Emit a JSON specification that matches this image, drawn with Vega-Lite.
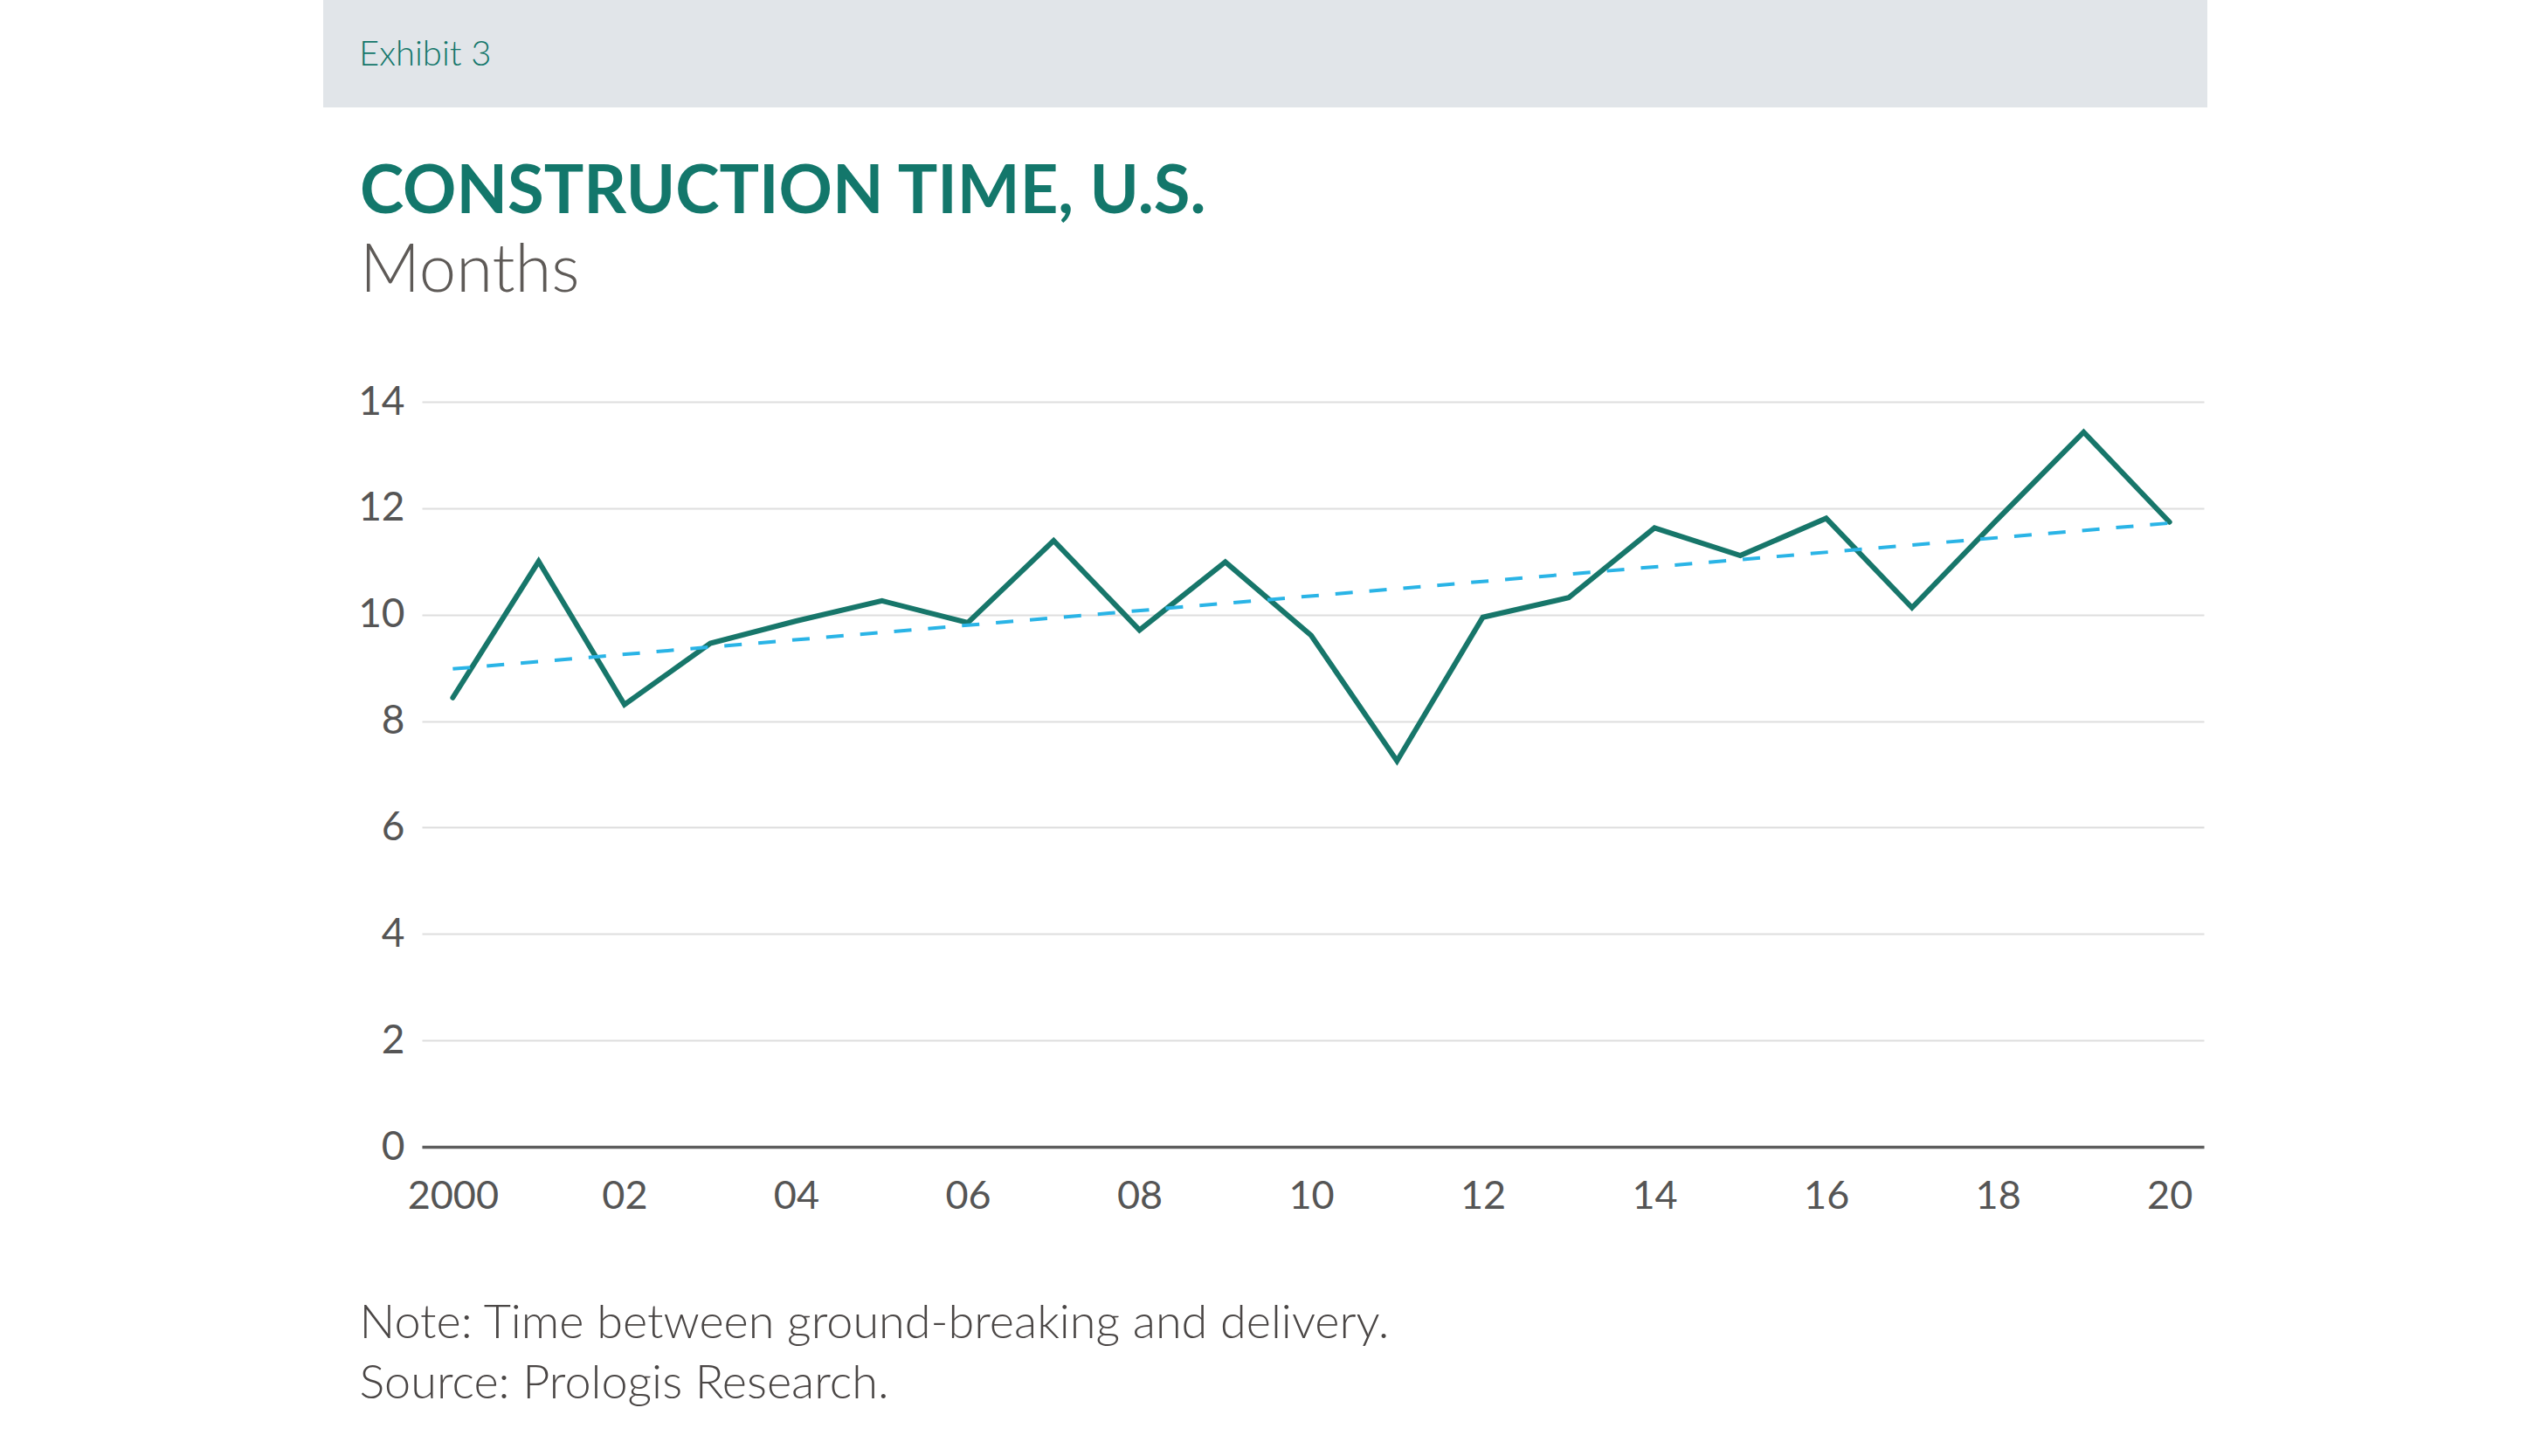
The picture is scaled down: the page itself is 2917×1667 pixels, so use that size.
{
  "$schema": "https://vega.github.io/schema/vega-lite/v6.json",
  "background": "#ffffff",
  "padding": {"left": 370, "top": 0, "right": 0, "bottom": 0},
  "config": {"view": {"stroke": null}, "font": "Lato"},
  "spacing": 60,
  "center": true,
  "vconcat": [
    {
      "width": 2157,
      "height": 123,
      "view": {"fill": "#e1e5e9", "stroke": null},
      "title": {"text": "Exhibit 3", "anchor": "start", "frame": "group", "orient": "top", "offset": -115, "dx": 41, "baseline": "alphabetic", "fontSize": 40, "fontWeight": 300, "color": "#13776b", "font": "Lato"},
      "data": {"values": []},
      "mark": {"type": "text"},
      "encoding": {
        "y": {
          "datum": 0, "type": "quantitative",
          "axis": {"orient": "right", "labels": false, "domain": false, "ticks": false, "grid": false, "title": null, "minExtent": 109, "maxExtent": 109}
        }
      }
    },
    {
      "width": 2040,
      "height": 853,
      "title": {
        "text": "CONSTRUCTION TIME, U.S.",
        "subtitle": "Months",
        "anchor": "start",
        "frame": "bounds",
        "dx": 41,
        "offset": 87,
        "font": "Lato",
        "fontSize": 76,
        "fontWeight": "bold",
        "color": "#13776b",
        "subtitleFont": "Lato",
        "subtitleFontSize": 76,
        "subtitleFontWeight": 300,
        "subtitleColor": "#5e5a57",
        "subtitlePadding": 14
      },
      "layer": [
        {
          "data": {"values": [
            {"year": 2000, "months": 8.44},
            {"year": 2001, "months": 11.0},
            {"year": 2002, "months": 8.31},
            {"year": 2003, "months": 9.46},
            {"year": 2004, "months": 9.88},
            {"year": 2005, "months": 10.26},
            {"year": 2006, "months": 9.85},
            {"year": 2007, "months": 11.39},
            {"year": 2008, "months": 9.71},
            {"year": 2009, "months": 10.99},
            {"year": 2010, "months": 9.61},
            {"year": 2011, "months": 7.25},
            {"year": 2012, "months": 9.95},
            {"year": 2013, "months": 10.32},
            {"year": 2014, "months": 11.63},
            {"year": 2015, "months": 11.11},
            {"year": 2016, "months": 11.81},
            {"year": 2017, "months": 10.13},
            {"year": 2018, "months": 11.8},
            {"year": 2019, "months": 13.43},
            {"year": 2020, "months": 11.74}
          ]},
          "mark": {"type": "line", "color": "#17766a", "strokeWidth": 6, "strokeCap": "round", "strokeJoin": "miter"},
          "encoding": {
            "x": {
              "field": "year", "type": "quantitative",
              "scale": {"domain": [1999.64, 2020.4], "nice": false, "zero": false},
              "axis": {
                "values": [2000, 2002, 2004, 2006, 2008, 2010, 2012, 2014, 2016, 2018, 2020],
                "labelExpr": "datum.value === 2000 ? '2000' : (datum.value % 100 < 10 ? '0' : '') + (datum.value % 100)",
                "grid": false, "ticks": false,
                "domainColor": "#5d5d5d", "domainWidth": 3.5,
                "labelFont": "Lato", "labelFontSize": 45, "labelColor": "#555555", "labelPadding": 34,
                "labelFlush": false,
                "title": ["Note: Time between ground-breaking and delivery.", "Source: Prologis Research."],
                "titleFont": "Lato", "titleFontSize": 54, "titleFontWeight": 300, "titleColor": "#4a4645",
                "titleAnchor": "start", "titleAlign": "left", "titleBaseline": "alphabetic",
                "titleX": -72, "titleY": 218, "titleLineHeight": 69.5
              }
            },
            "y": {
              "field": "months", "type": "quantitative",
              "scale": {"domain": [0, 14], "nice": false},
              "axis": {
                "values": [0, 2, 4, 6, 8, 10, 12, 14],
                "format": "d",
                "title": null, "domain": false, "ticks": false,
                "gridColor": "#dedede", "gridWidth": 2,
                "labelFont": "Lato", "labelFontSize": 46, "labelColor": "#555555", "labelPadding": 20,
                "minExtent": 112
              }
            }
          }
        },
        {
          "data": {"values": [
            {"year": 2000, "trend": 8.98},
            {"year": 2020, "trend": 11.72}
          ]},
          "mark": {"type": "line", "color": "#2ab4e6", "strokeWidth": 4, "strokeDash": [20, 19]},
          "encoding": {
            "x": {"field": "year", "type": "quantitative"},
            "y": {"field": "trend", "type": "quantitative"}
          }
        }
      ]
    }
  ]
}
